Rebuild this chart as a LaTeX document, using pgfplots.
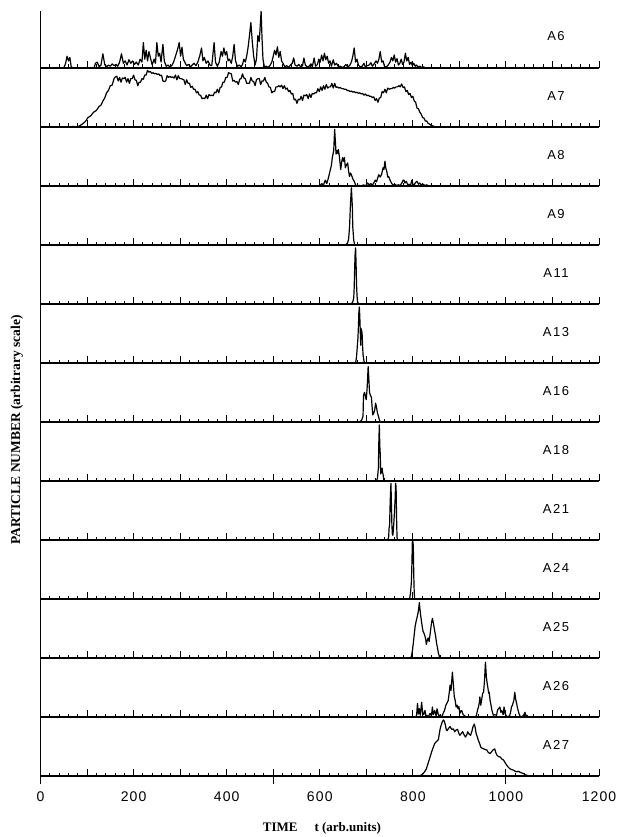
\documentclass[border=0pt]{standalone}
\usepackage{pgfplots}
\pgfplotsset{compat=1.18}
\usepackage{fontspec}
\setmainfont{Liberation Serif}
\newfontfamily\labfont[LetterSpace=12]{Liberation Sans}
\newfontfamily\ticfont[LetterSpace=8]{Liberation Sans}
\tikzset{plab/.style={font=\labfont\fontsize{13}{13}\selectfont, anchor=center},
  dat/.style={black, line width=1.2pt, line join=round, mark=none, solid}}
\pgfplotsset{
  pan/.style={
    at={(40.5pt,-#1pt)}, anchor=south west, scale only axis,
    width=558.5pt, height=59pt,
    xmin=0, xmax=1200, ymin=0, ymax=1,
    axis x line*=bottom, axis y line*=left,
    axis line style={line width=1.1pt, black},
    xtick={0,100,...,1200}, minor x tick num=4,
    xtick align=inside, major tick length=7pt, minor tick length=3.5pt,
    tick style={line width=0.9pt, black},
    xticklabels={}, ytick=\empty, clip=false,
  },
}
\begin{document}
\begin{tikzpicture}
\useasboundingbox (0,0) rectangle (616pt,-837pt);

% A6
\begin{axis}[pan=68, height=57pt, ymax=0.966]
\addplot[dat] coordinates {(0,0)(50,0)(54,0.08)(57,0.2)(60,0.12)(63,0.18)(66,0.02)(70,0)(115,0)(118,0.08)(122,0.1)(126,0.02)
(130,0.05)(134,0.24)(138,0.06)(142,0.02)(146,0.05)(150,0.03)(154,0.07)(158,0.04)(162,0.06)(166,0.03)(170,0.1)(174,0.24)(178,0.08)(182,0.12)(186,0.05)(190,0.14)(194,0.08)(198,0.12)(202,0.06)(206,0.1)(210,0.05)(214,0.15)(218,0.1)(221,0.43)(224,0.15)(227,0.3)(230,0.12)(233,0.28)(236,0.18)(240,0.05)(244,0.15)(247,0.08)(250,0.43)(253,0.2)(256,0.25)(259,0.1)(263,0.4)(266,0.12)(270,0.03)(274,0.05)(278,0.02)(282,0.04)(286,0.1)(290,0.2)(294,0.3)(298,0.43)(301,0.2)(304,0.35)(307,0.15)(310,0.1)(314,0.04)(318,0.06)(322,0.02)(326,0.05)(330,0.08)(334,0.04)(338,0.1)(342,0.2)(346,0.34)(349,0.12)(352,0.18)(356,0.08)(360,0.12)(364,0.05)(368,0.04)(373,0.43)(376,0.1)(380,0.03)(384,0.1)(388,0.28)(391,0.2)(394,0.34)(397,0.22)(400,0.28)(403,0.12)(406,0.15)(410,0.08)(413,0.2)(416,0.4)(419,0.12)(423,0.03)(427,0.05)(431,0.02)(434,0.06)(437,0.15)(440,0.1)(443,0.2)(446,0.35)(449,0.55)(452,0.77)(455,0.45)(458,0.2)(461,0.05)(464,0.15)(467,0.55)(470,0.45)(472,0.7)(474,0.96)(476,0.5)(478,0.15)(481,0.02)(485,0.03)(489,0.01)(493,0.04)(497,0.1)(500,0.2)(503,0.3)(506,0.22)(509,0.36)(512,0.18)(515,0.28)(518,0.12)(521,0.08)(525,0.02)(529,0.04)(533,0.01)(537,0.05)(541,0.08)(544,0.17)(547,0.05)(551,0.03)(555,0.06)(559,0.02)(563,0.04)(566,0.17)(569,0.05)(573,0.02)(577,0.03)(581,0.07)(584,0.02)(588,0.17)(591,0.03)(595,0.06)(598,0.15)(601,0.1)(604,0.22)(607,0.12)(610,0.25)(613,0.14)(616,0.2)(619,0.08)(622,0.12)(625,0.03)(629,0.14)(632,0.05)(636,0.08)(640,0.02)(644,0.03)(648,0.01)(652,0.02)(656,0.06)(660,0.02)(664,0.04)(668,0.1)(671,0.2)(674,0.34)(677,0.1)(680,0.15)(683,0.05)(687,0.02)(691,0.03)(695,0.08)(698,0.02)(702,0.04)(706,0.05)(710,0.09)(713,0.03)(717,0.07)(721,0.12)(724,0.08)(727,0.15)(730,0.28)(733,0.1)(736,0.12)(739,0.03)(743,0.02)(747,0.05)(751,0.1)(754,0.18)(757,0.12)(760,0.22)(763,0.1)(766,0.16)(769,0.05)(772,0.08)(775,0.15)(778,0.06)(781,0.1)(784,0.25)(787,0.12)(790,0.18)(793,0.06)(796,0.1)(799,0.04)(802,0.08)(805,0.03)(808,0.05)(811,0.02)(815,0.03)(819,0.01)(823,0.02)(827,0)};
\node[plab] at (rel axis cs:0.923,0.56) {A6};
\end{axis}

% A7
\begin{axis}[pan=127]
\addplot[dat] coordinates {(60,0)(70,0.01)(78,0)(84,0.02)(90,0.05)(96,0.09)(102,0.16)(108,0.19)(114,0.25)(120,0.28)(126,0.35)(130,0.37)(134,0.44)(138,0.49)(142,0.58)(146,0.62)(150,0.7)(154,0.71)(158,0.82)(161,0.85)(164,0.86)(167,0.78)(170,0.84)(173,0.76)(176,0.83)(179,0.82)(182,0.84)(185,0.76)(188,0.82)(191,0.74)(194,0.82)(197,0.82)(200,0.88)(203,0.8)(206,0.79)(209,0.7)(212,0.76)(215,0.76)(218,0.82)(221,0.81)(224,0.88)(227,0.88)(230,0.96)(233,0.93)(236,0.94)(239,0.91)(242,0.92)(245,0.9)(248,0.91)(251,0.89)(254,0.9)(257,0.87)(260,0.88)(263,0.78)(266,0.77)(269,0.78)(272,0.87)(275,0.84)(278,0.86)(281,0.84)(284,0.85)(287,0.83)(290,0.88)(293,0.8)(296,0.87)(299,0.82)(302,0.82)(305,0.81)(308,0.8)(311,0.72)(314,0.8)(317,0.74)(320,0.74)(323,0.67)(326,0.69)(329,0.64)(332,0.64)(335,0.58)(338,0.6)(341,0.54)(344,0.54)(347,0.48)(350,0.49)(353,0.48)(356,0.54)(359,0.48)(362,0.55)(365,0.53)(368,0.54)(371,0.53)(374,0.59)(377,0.58)(380,0.64)(383,0.58)(386,0.67)(389,0.68)(392,0.76)(395,0.76)(398,0.84)(401,0.84)(404,0.92)(407,0.91)(410,0.9)(413,0.78)(416,0.79)(419,0.76)(422,0.77)(425,0.72)(428,0.81)(431,0.82)(434,0.9)(437,0.83)(440,0.82)(443,0.74)(446,0.74)(449,0.74)(452,0.84)(455,0.78)(458,0.77)(461,0.7)(464,0.8)(467,0.82)(470,0.82)(473,0.72)(476,0.78)(479,0.78)(482,0.84)(485,0.76)(488,0.74)(491,0.68)(494,0.67)(497,0.58)(500,0.6)(503,0.6)(506,0.68)(509,0.68)(512,0.7)(515,0.68)(518,0.71)(521,0.65)(524,0.7)(527,0.64)(530,0.66)(533,0.6)(536,0.62)(539,0.56)(542,0.57)(545,0.46)(548,0.47)(551,0.4)(554,0.47)(557,0.46)(560,0.52)(563,0.45)(566,0.54)(569,0.53)(572,0.55)(575,0.48)(578,0.56)(581,0.5)(584,0.57)(587,0.56)(590,0.58)(593,0.58)(596,0.65)(599,0.6)(602,0.68)(605,0.62)(608,0.7)(611,0.64)(614,0.72)(617,0.66)(620,0.68)(623,0.68)(626,0.74)(629,0.66)(632,0.74)(635,0.67)(638,0.68)(641,0.66)(644,0.67)(647,0.65)(650,0.65)(653,0.64)(656,0.64)(659,0.62)(662,0.62)(665,0.6)(668,0.61)(671,0.59)(674,0.6)(677,0.58)(680,0.59)(683,0.57)(686,0.58)(689,0.56)(692,0.57)(695,0.54)(698,0.56)(701,0.53)(704,0.54)(707,0.52)(710,0.52)(713,0.5)(716,0.51)(719,0.45)(722,0.48)(725,0.42)(728,0.49)(731,0.5)(734,0.6)(737,0.58)(740,0.64)(743,0.58)(746,0.66)(749,0.64)(752,0.65)(755,0.65)(758,0.67)(761,0.66)(764,0.68)(767,0.68)(770,0.7)(773,0.68)(776,0.73)(779,0.67)(782,0.68)(785,0.6)(788,0.62)(791,0.55)(794,0.57)(797,0.5)(800,0.52)(803,0.44)(806,0.42)(809,0.32)(812,0.31)(815,0.25)(818,0.22)(821,0.16)(824,0.15)(827,0.1)(830,0.1)(833,0.06)(836,0.05)(839,0.03)(842,0.02)(846,0.01)(852,0)};
\node[plab] at (rel axis cs:0.923,0.52) {A7};
\end{axis}

% A8
\begin{axis}[pan=186]
\addplot[dat] coordinates {(600,0)(604,0.04)(608,0.02)(612,0.1)(615,0.04)(618,0.12)(622,0.25)(625,0.35)(627,0.48)(630,0.6)(632,0.96)(634,0.7)(635,0.54)(637,0.6)(639,0.55)(640,0.62)(642,0.51)(645,0.28)(647,0.4)(649,0.48)(651,0.42)(653,0.48)(655,0.31)(657,0.35)(660,0.39)(662,0.25)(664,0.16)(666,0.22)(668,0.19)(671,0.12)(674,0.08)(678,0)(685,0.01)(690,0)(694,0.02)(698,0)(703,0.05)(706,0.02)(710,0.04)(713,0.01)(716,0.05)(719,0.1)(722,0.07)(725,0.15)(727,0.19)(730,0.15)(733,0.2)(736,0.31)(738,0.28)(740,0.42)(742,0.3)(744,0.25)(746,0.15)(748,0.16)(751,0.1)(754,0.05)(757,0.02)(761,0.03)(765,0.01)(769,0.02)(773,0.01)(777,0.06)(779,0.1)(781,0.1)(783,0.05)(786,0.08)(789,0.02)(792,0.03)(795,0.01)(798,0.1)(800,0.03)(803,0.02)(806,0.06)(809,0.08)(812,0.03)(815,0.05)(818,0.02)(822,0.03)(826,0.01)(830,0.02)(835,0)(843,0)};
\node[plab] at (rel axis cs:0.923,0.52) {A8};
\end{axis}

% A9
\begin{axis}[pan=245]
\addplot[dat] coordinates {(656,0)(660,0.04)(662,0.1)(664,0.3)(666,0.7)(668,0.97)(670,0.65)(671,0.3)(673,0.08)(675,0)};
\node[plab] at (rel axis cs:0.923,0.52) {A9};
\end{axis}

% A11
\begin{axis}[pan=304]
\addplot[dat] coordinates {(668,0)(671,0.04)(673,0.1)(674,0.28)(675,0.6)(676,0.85)(677,0.95)(678,0.7)(679,0.34)(680,0.15)(681,0.05)(683,0)};
\node[plab] at (rel axis cs:0.923,0.52) {A11};
\end{axis}

% A13
\begin{axis}[pan=363]
\addplot[dat] coordinates {(677,0)(679,0.1)(682,0.42)(683,0.6)(684,0.85)(685,0.95)(686,0.8)(687,0.55)(688,0.3)(689,0.58)(690,0.55)(691,0.5)(692,0.3)(693,0.14)(695,0.03)(697,0)};
\node[plab] at (rel axis cs:0.923,0.52) {A13};
\end{axis}

% A16
\begin{axis}[pan=422]
\addplot[dat] coordinates {(685,0)(690,0.03)(693,0.1)(694,0.45)(696,0.5)(697,0.48)(699,0.4)(700,0.38)(702,0.6)(704,0.94)(705,0.8)(707,0.5)(709,0.45)(711,0.42)(713,0.2)(714,0.12)(716,0.15)(718,0.2)(720,0.32)(722,0.25)(724,0.15)(726,0.1)(728,0.04)(730,0)};
\node[plab] at (rel axis cs:0.923,0.52) {A16};
\end{axis}

% A18
\begin{axis}[pan=481]
\addplot[dat] coordinates {(722,0)(724,0.05)(726,0.22)(727,0.68)(728,0.95)(729,0.6)(730,0.45)(731,0.12)(732,0.15)(733,0.17)(734,0.22)(735,0.14)(736,0.12)(737,0.05)(738,0)};
\node[plab] at (rel axis cs:0.923,0.52) {A18};
\end{axis}

% A21
\begin{axis}[pan=540]
\addplot[dat] coordinates {(746,0)(748,0.05)(749,0.2)(750,0.25)(751,0.55)(752,0.8)(753,0.96)(754,0.6)(755,0.25)(756,0.1)(757,0.08)(758,0.15)(760,0.4)(762,0.7)(763,0.96)(764,0.9)(765,0.4)(766,0.05)(767,0)};
\node[plab] at (rel axis cs:0.923,0.52) {A21};
\end{axis}

% A24
\begin{axis}[pan=599]
\addplot[dat] coordinates {(793,0)(795,0.1)(797,0.3)(798,0.6)(799,0.98)(800,0.98)(801,0.9)(802,0.4)(803,0.1)(804,0)};
\node[plab] at (rel axis cs:0.923,0.52) {A24};
\end{axis}

% A25
\begin{axis}[pan=658]
\addplot[dat] coordinates {(795,0)(797,0.03)(799,0.12)(801,0.25)(803,0.4)(805,0.54)(807,0.62)(808,0.65)(810,0.72)(812,0.8)(814,0.94)(815,0.85)(817,0.71)(819,0.6)(820,0.54)(822,0.45)(824,0.42)(826,0.37)(828,0.3)(829,0.23)(831,0.3)(833,0.34)(835,0.28)(837,0.4)(840,0.59)(842,0.67)(844,0.6)(846,0.5)(849,0.37)(851,0.25)(853,0.17)(855,0.08)(857,0.03)(859,0)};
\node[plab] at (rel axis cs:0.923,0.52) {A25};
\end{axis}

% A26
\begin{axis}[pan=717]
\addplot[dat] coordinates {(804,0)(808,0.02)(810,0.23)(812,0.05)(814,0.14)(816,0.03)(819,0.25)(821,0.06)(823,0.04)(826,0.11)(828,0.02)(830,0.03)(833,0)(837,0.06)(840,0.02)(842,0.17)(844,0.04)(847,0.11)(850,0.02)(852,0.14)(855,0.03)(858,0.03)(862,0)(865,0.06)(868,0.11)(871,0.2)(873,0.23)(876,0.28)(878,0.4)(880,0.54)(882,0.45)(885,0.76)(887,0.56)(889,0.35)(891,0.28)(893,0.17)(895,0.2)(897,0.14)(899,0.18)(901,0.06)(903,0.1)(905,0.11)(908,0.04)(910,0.03)(913,0.01)(916,0)(935,0)(937,0.04)(939,0.12)(941,0.17)(943,0.25)(944,0.34)(946,0.2)(948,0.3)(950,0.4)(952,0.42)(954,0.62)(956,0.93)(958,0.68)(960,0.55)(961,0.51)(963,0.4)(964,0.42)(966,0.28)(968,0.2)(970,0.11)(973,0.03)(976,0.04)(980,0.03)(982,0.12)(984,0.14)(987,0.17)(989,0.08)(991,0.11)(994,0.04)(996,0.17)(998,0.06)(1000,0.03)(1003,0)(1008,0.02)(1010,0.08)(1012,0.17)(1014,0.2)(1017,0.28)(1019,0.42)(1021,0.3)(1023,0.23)(1025,0.15)(1028,0.06)(1030,0.02)(1033,0)(1038,0.03)(1041,0.08)(1043,0.02)(1045,0.03)(1048,0)};
\node[plab] at (rel axis cs:0.923,0.52) {A26};
\end{axis}

% A27
\begin{axis}[pan=776,
  xticklabels={0,,200,,400,,600,,800,,1000,,1200},
  xticklabel style={font=\ticfont\fontsize{14}{14}\selectfont},
  xticklabel shift=12pt,
  extra x ticks={0,500,1000}, extra x tick labels={},
  extra x tick style={xtick align=outside, major tick length=8pt},
]
\addplot[dat] coordinates {(812,0)(815,0.005)(819,0.02)(822,0.04)(826,0.08)(829,0.12)(833,0.22)(837,0.32)(840,0.4)(844,0.49)(847,0.55)(850,0.58)(853,0.6)(855,0.62)(858,0.77)(860,0.84)(862,0.89)(864,0.93)(866,0.95)(868,0.92)(870,0.86)(872,0.78)(874,0.77)(876,0.8)(878,0.82)(880,0.84)(882,0.81)(884,0.79)(887,0.8)(890,0.75)(893,0.78)(896,0.79)(899,0.72)(901,0.69)(904,0.72)(907,0.75)(910,0.7)(913,0.66)(916,0.7)(918,0.75)(921,0.71)(924,0.69)(927,0.76)(929,0.83)(932,0.88)(934,0.82)(936,0.72)(939,0.65)(941,0.6)(944,0.54)(946,0.49)(949,0.47)(952,0.46)(955,0.45)(959,0.44)(962,0.4)(966,0.38)(969,0.41)(972,0.44)(976,0.46)(978,0.4)(981,0.35)(984,0.33)(988,0.32)(991,0.29)(995,0.27)(998,0.23)(1002,0.18)(1005,0.15)(1009,0.12)(1012,0.11)(1016,0.1)(1020,0.08)(1023,0.07)(1027,0.08)(1031,0.06)(1035,0.05)(1038,0.04)(1042,0.02)(1046,0.01)(1050,0.005)(1055,0)};
\node[plab] at (rel axis cs:0.923,0.52) {A27};
\end{axis}

\node[rotate=90, font=\bfseries\fontsize{13.5}{13.5}\selectfont] at (17pt,-430pt) {PARTICLE NUMBER (arbitrary scale)};
\node[font=\bfseries\fontsize{13}{13}\selectfont] at (322pt,-828pt) {TIME\hspace{1.3em}t (arb.units)};
\end{tikzpicture}
\end{document}
